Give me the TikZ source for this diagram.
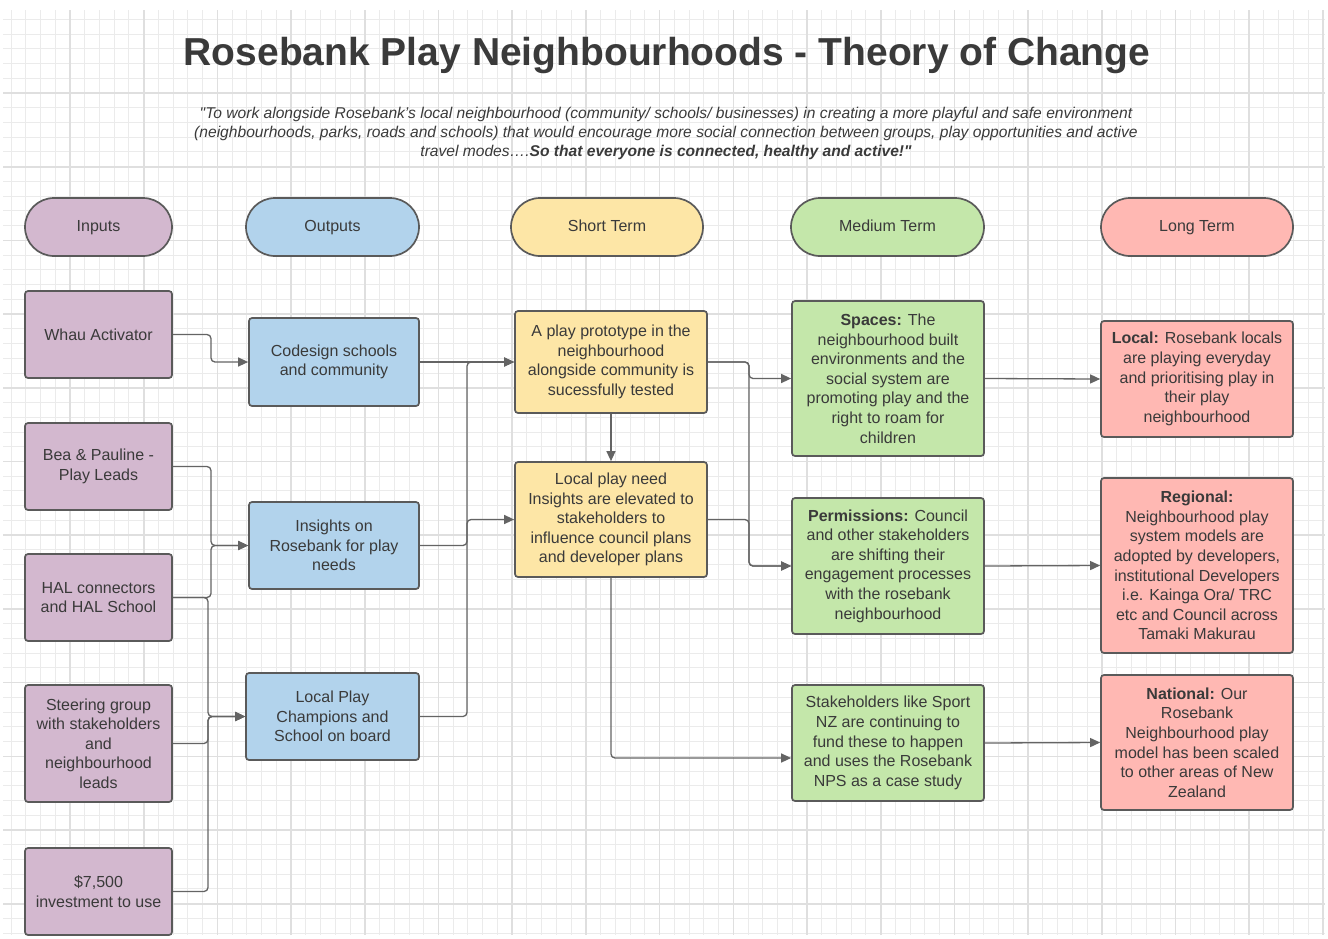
\documentclass[tikz,border=0pt]{standalone}
\usepackage{fontspec}
\setmainfont{Liberation Sans}
\usetikzlibrary{arrows.meta,calc}

\definecolor{inp}{HTML}{D3B8CF}
\definecolor{outp}{HTML}{B2D3EC}
\definecolor{shortc}{HTML}{FDE6A6}
\definecolor{medc}{HTML}{C4E7AA}
\definecolor{longc}{HTML}{FFB8B3}
\definecolor{edge}{HTML}{5A5A5A}
\definecolor{lnk}{HTML}{646464}
\definecolor{txt}{HTML}{3A3A3A}
\definecolor{gridminor}{HTML}{EBEBEB}
\definecolor{gridmajor}{HTML}{DFDFDF}

\begin{document}
\begin{tikzpicture}[x=1pt,y=-1pt,
  box/.style={draw=edge, line width=1.7pt, rounded corners=3pt, align=center,
    text=txt, font=\fontsize{16}{19.6}\selectfont, inner sep=0pt},
  pill/.style={draw=edge, line width=1.7pt, rounded corners=29pt, align=center,
    text=txt, font=\fontsize{16}{19.6}\selectfont, inner sep=0pt,
    minimum height=58pt, text height=11.5pt, text depth=3.5pt},
  link/.style={draw=lnk, line width=1.3pt, rounded corners=4pt},
  arr/.style={link, -{Triangle[length=10pt,width=9pt]}},
]
\useasboundingbox (0,0) rectangle (1328,938);
\fill[white] (0,0) rectangle (1328,938);

% background grid
\foreach \i in {0,...,89} {
  \pgfmathsetmacro\gx{11.04+14.74*\i}
  \draw[gridminor, line width=1pt] (\gx,10) -- (\gx,935);
}
\foreach \j in {0,...,62} {
  \pgfmathsetmacro\gy{19.3+14.74*\j}
  \draw[gridminor, line width=1pt] (3,\gy) -- (1325,\gy);
}
\foreach \k in {0,...,17} {
  \pgfmathsetmacro\gx{70+73.7*\k}
  \draw[gridmajor, line width=1.6pt] (\gx,10) -- (\gx,935);
}
\foreach \k in {0,...,11} {
  \pgfmathsetmacro\gy{93+73.7*\k}
  \draw[gridmajor, line width=1.6pt] (3,\gy) -- (1325,\gy);
}

% title and mission statement
\node[font=\bfseries\fontsize{39}{44}\selectfont, text=txt] (title) at (667,55)
  {Rosebank Play Neighbourhoods - Theory of Change};
\node[font=\itshape\fontsize{15.6}{19}\selectfont, text=txt, align=center] (quote) at (666,133)
  {\textquotedbl To work alongside Rosebank's local neighbourhood (community/ schools/ businesses) in creating a more playful and safe environment\\
   (neighbourhoods, parks, roads and schools) that would encourage more social connection between groups, play opportunities and active\\
   travel modes\ldots.\textbf{So that everyone is connected, healthy and active!\textquotedbl}};

% column headers
\node[pill, fill=inp, minimum width=147pt] (hin) at (98.5,227) {Inputs};
\node[pill, fill=outp, minimum width=173pt] (hout) at (332.5,227) {Outputs};
\node[pill, fill=shortc, minimum width=192pt] (hshort) at (607,227) {Short Term};
\node[pill, fill=medc, minimum width=193pt] (hmed) at (887.5,227) {Medium Term};
\node[pill, fill=longc, minimum width=192pt] (hlong) at (1197,227) {Long Term};

% inputs
\node[box, fill=inp, minimum width=147pt, minimum height=87pt] (whau) at (98.5,334.5) {Whau Activator};
\node[box, fill=inp, minimum width=147pt, minimum height=87pt] (bea) at (98.5,466.5) {Bea \& Pauline -\\Play Leads};
\node[box, fill=inp, minimum width=147pt, minimum height=87pt] (hal) at (98.5,597.5) {HAL connectors\\and HAL School};
\node[box, fill=inp, minimum width=147pt, minimum height=117pt] (steer) at (98.5,743.5) {Steering group\\with stakeholders\\and\\neighbourhood\\leads};
\node[box, fill=inp, minimum width=147pt, minimum height=87pt] (invest) at (98.5,891.5) {\$7,500\\investment to use};

% outputs
\node[box, fill=outp, minimum width=170pt, minimum height=88pt] (codesign) at (334,362) {Codesign schools\\and community};
\node[box, fill=outp, minimum width=170pt, minimum height=87pt] (insights) at (334,545.5) {Insights on\\Rosebank for play\\needs};
\node[box, fill=outp, minimum width=173pt, minimum height=87pt] (champ) at (332.5,716.5) {Local Play\\Champions and\\School on board};

% short term
\node[box, fill=shortc, minimum width=192pt, minimum height=102pt] (proto) at (611,362) {A play prototype in the\\neighbourhood\\alongside community is\\sucessfully tested};
\node[box, fill=shortc, minimum width=192pt, minimum height=115pt] (lneed) at (611,519.5) {Local play need\\Insights are elevated to\\stakeholders to\\influence council plans\\and developer plans};

% medium term
\node[box, fill=medc, minimum width=192pt, minimum height=155pt] (spaces) at (888,378.5) {\textbf{Spaces:} The\\neighbourhood built\\environments and the\\social system are\\promoting play and the\\right to roam for\\children};
\node[box, fill=medc, minimum width=192pt, minimum height=136pt] (perm) at (888,566) {\textbf{Permissions:} Council\\and other stakeholders\\are shifting their\\engagement processes\\with the rosebank\\neighbourhood};
\node[box, fill=medc, minimum width=192pt, minimum height=116pt] (stake) at (888,743) {Stakeholders like Sport\\NZ are continuing to\\fund these to happen\\and uses the Rosebank\\NPS as a case study};

% long term
\node[box, fill=longc, minimum width=192pt, minimum height=116pt] (local) at (1197,379) {\textbf{Local:} Rosebank locals\\are playing everyday\\and prioritising play in\\their play\\neighbourhood};
\node[box, fill=longc, minimum width=192pt, minimum height=175pt] (regional) at (1197,565.5) {\textbf{Regional:}\\Neighbourhood play\\system models are\\adopted by developers,\\institutional Developers\\i.e. Kainga Ora/ TRC\\etc and Council across\\Tamaki Makurau};
\node[box, fill=longc, minimum width=192pt, minimum height=135pt] (national) at (1197,742.5) {\textbf{National:} Our\\Rosebank\\Neighbourhood play\\model has been scaled\\to other areas of New\\Zealand};

% routing columns for the elbow connectors
\coordinate (ja) at (211,0);
\coordinate (jb) at (208,0);
\coordinate (jc) at (467,0);
\coordinate (jd) at (749,0);

% inputs to outputs
\draw[arr] (whau.east) -- (whau.east -| ja) |- (codesign.west);
\draw[arr] (bea.east) -- (bea.east -| ja) |- (insights.west);
\draw[arr] (hal.east) -- (hal.east -| ja) |- (insights.west);
\draw[arr] (hal.east) -- (hal.east -| jb) |- (champ.west);
\draw[arr] (steer.east) -- (steer.east -| jb) |- (champ.west);
\draw[arr] (invest.east) -- (invest.east -| jb) |- (champ.west);

% outputs to short term
\draw[arr] (codesign.east) -- (proto.west);
\draw[arr] (insights.east) -- (insights.east -| jc) |- (lneed.west);
\draw[arr] (champ.east) -- (champ.east -| jc) |- (proto.west);

% short term to medium term
\draw[arr] (proto.south) -- (lneed.north);
\draw[arr] (proto.east) -- (proto.east -| jd) |- (spaces.west);
\draw[arr] (proto.east) -- (proto.east -| jd) |- (perm.west);
\draw[arr] (lneed.east) -- (lneed.east -| jd) |- (perm.west);
\draw[arr] (lneed.south) |- ([yshift=-15pt]stake.west);

% medium term to long term
\draw[arr] (spaces.east) -- (local.west);
\draw[arr] (perm.east) -- (regional.west);
\draw[arr] (stake.east) -- (national.west);
\end{tikzpicture}
\end{document}
